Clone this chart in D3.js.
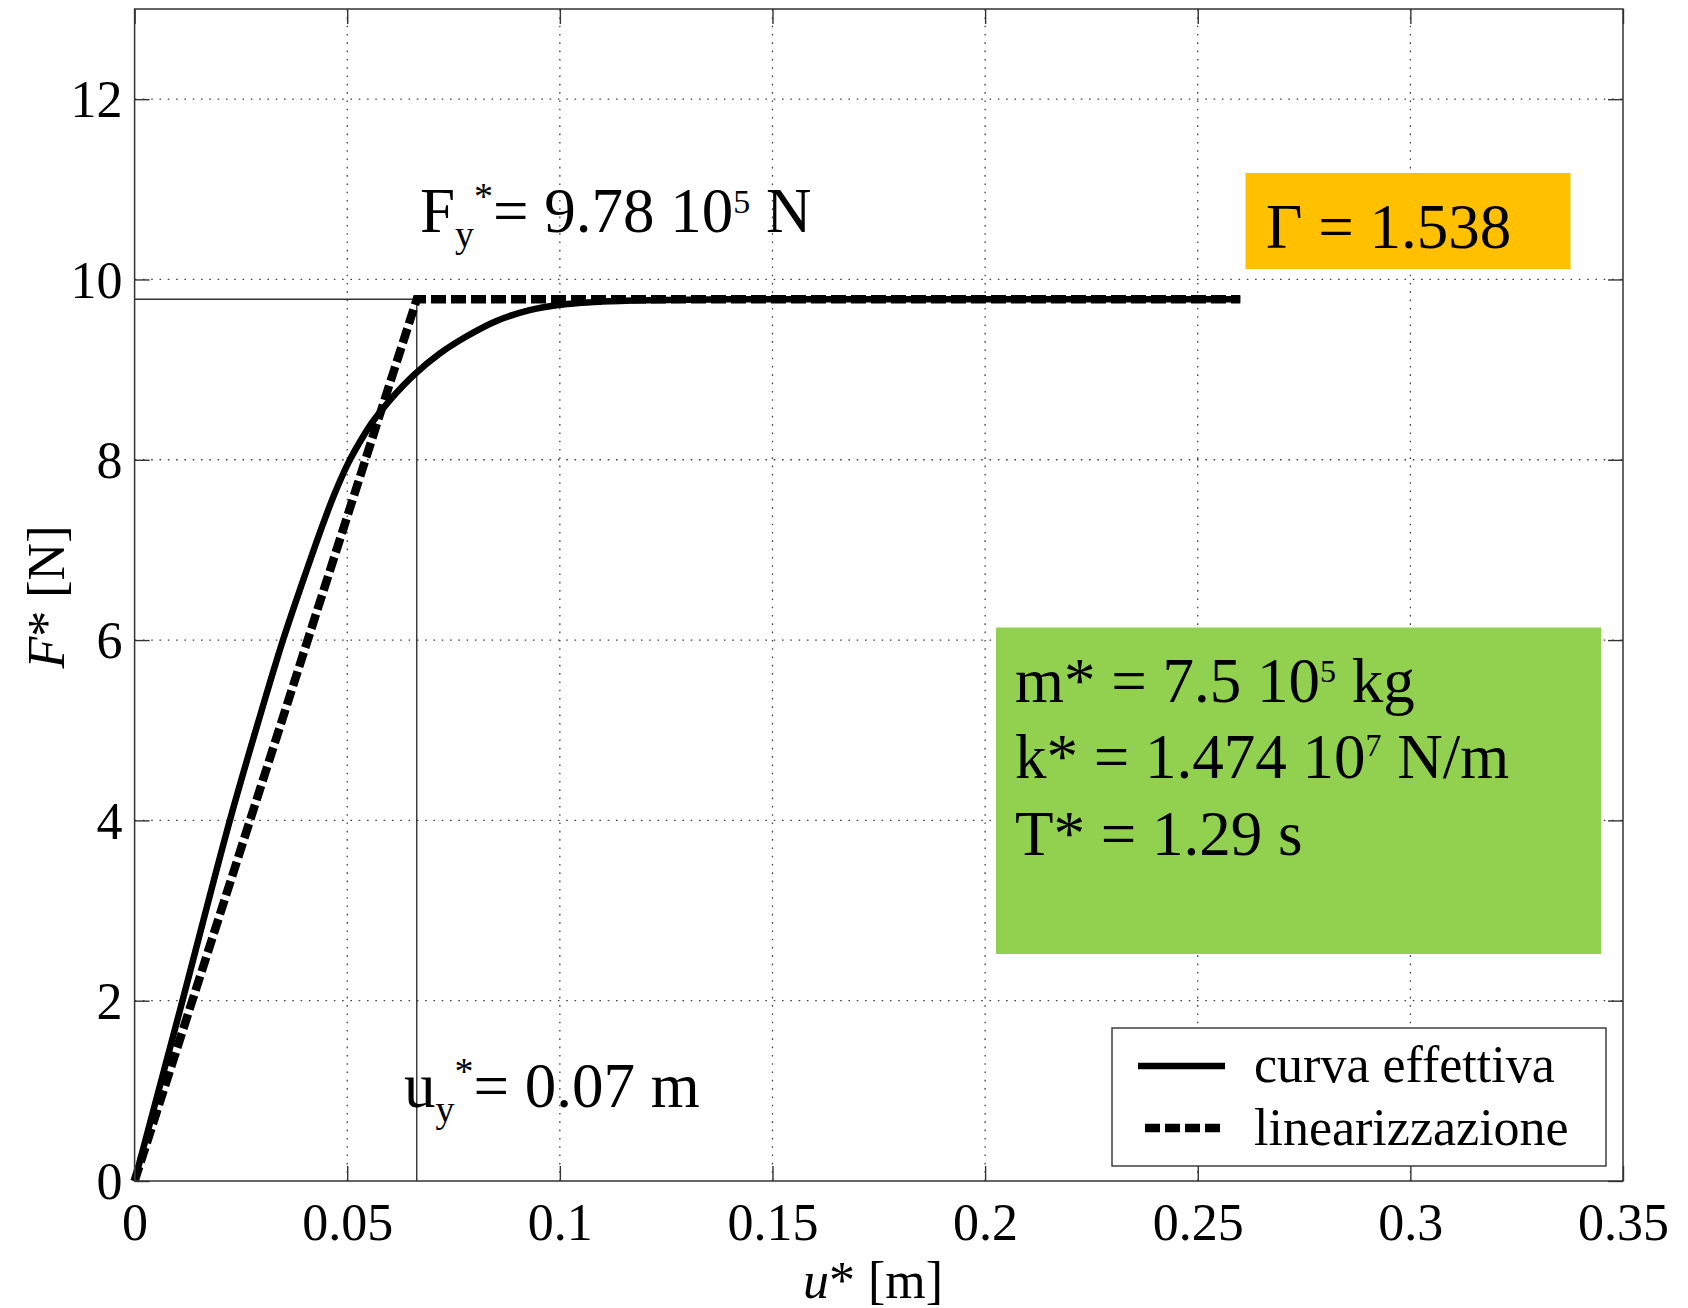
<!DOCTYPE html>
<html>
<head>
<meta charset="utf-8">
<script src="https://cdn.jsdelivr.net/npm/d3@7"></script>
<style>
  html, body { margin: 0; padding: 0; background: #fff; }
  svg { display: block; }
</style>
</head>
<body>
<svg id="chart" width="1688" height="1308"></svg>
<script>
// ---- tick values and labels ----
const xTicks = [0, 0.05, 0.1, 0.15, 0.2, 0.25, 0.3, 0.35];
const xTickLabels = ["0", "0.05", "0.1", "0.15", "0.2", "0.25", "0.3", "0.35"];
const yTicks = [0, 2, 4, 6, 8, 10, 12];
const yTickLabels = ["0", "2", "4", "6", "8", "10", "12"];

// ---- capacity curve of the equivalent SDOF system: u* [m], F* [10^5 N] ----
const curveU = [0, 0.0107, 0.0224, 0.0290, 0.0349, 0.0405, 0.0444, 0.0470, 0.0502, 0.0530,
                0.0561, 0.0600, 0.0659, 0.0718, 0.0781, 0.0851, 0.0929, 0.1000, 0.1100,
                0.1200, 0.1400, 0.2000, 0.2600];
const curveF = [0, 1.9, 4.0, 5.08, 6.0, 6.78, 7.30, 7.62, 7.96, 8.20,
                8.43, 8.66, 8.95, 9.18, 9.37, 9.54, 9.66, 9.72, 9.755,
                9.77, 9.78, 9.78, 9.78];

// ---- bilinear idealisation ----
const Fy = 9.78;       // yield force  [10^5 N]
const kStar = 1.474;   // stiffness    [10^7 N/m]
const uMax = 0.26;     // ultimate displacement [m]
const uy = (Fy * 1e5) / (kStar * 1e7);   // yield displacement [m]
const linU = [0, uy, uMax];
const linF = [0, Fy, Fy];

const legendLabels = ["curva effettiva", "linearizzazione"];

// ---- layout ----
const W = 1688, H = 1308;
const plot = { left: 134.6, right: 1623, top: 9, bottom: 1181 };
const serif = "'Liberation Serif', 'Times New Roman', Times, serif";

const svg = d3.select("#chart");
svg.append("rect").attr("width", W).attr("height", H).attr("fill", "#fff");

const x = d3.scaleLinear().domain([0, 0.35]).range([plot.left, plot.right]);
const y = d3.scaleLinear().domain([0, 13]).range([plot.bottom, plot.top]);

// ---- dotted grid ----
const grid = svg.append("g")
  .attr("stroke", "#444").attr("stroke-width", 1.3)
  .attr("stroke-dasharray", "1.6,6.7");
grid.selectAll("line.gx").data(xTicks.filter(d => d > 0 && d < 0.35)).join("line")
  .attr("x1", d => x(d)).attr("x2", d => x(d))
  .attr("y1", y(0)).attr("y2", y(13));
grid.selectAll("line.gy").data(yTicks.filter(d => d > 0)).join("line")
  .attr("x1", x(0)).attr("x2", x(0.35))
  .attr("y1", d => y(d)).attr("y2", d => y(d));

// ---- yield reference lines ----
svg.append("path")
  .attr("d", `M${x(0)},${y(Fy)}H${x(uy)}V${y(0)}`)
  .attr("fill", "none").attr("stroke", "#333").attr("stroke-width", 1.4);

// ---- curves ----
const curvePts = curveU.map((u, i) => [u, curveF[i]]);
const linPts = linU.map((u, i) => [u, linF[i]]);

const smooth = d3.line().x(d => x(d[0])).y(d => y(d[1])).curve(d3.curveCatmullRom.alpha(0.5));
const straight = d3.line().x(d => x(d[0])).y(d => y(d[1]));

svg.append("path").datum(linPts)
  .attr("d", straight)
  .attr("fill", "none").attr("stroke", "#000")
  .attr("stroke-width", 8.5).attr("stroke-dasharray", "15,5");

svg.append("path").datum(curvePts)
  .attr("d", smooth)
  .attr("fill", "none").attr("stroke", "#000")
  .attr("stroke-width", 6.5).attr("stroke-linejoin", "round");

// ---- helper for rich text with sub/superscripts ----
function richText(parent, x0, y0, size, parts) {
  const t = parent.append("text")
    .attr("x", x0).attr("y", y0)
    .attr("font-family", serif).attr("font-size", size).attr("fill", "#000");
  parts.forEach(p => {
    const s = t.append("tspan").text(p.t);
    if (p.size) s.attr("font-size", p.size);
    if (p.dy) s.attr("dy", p.dy);
    if (p.style) s.attr("font-style", p.style);
  });
  return t;
}

// ---- annotation: yield force and displacement ----
richText(svg, 420, 232, 63, [
  { t: "F" },
  { t: "y", size: 38, dy: 15 },
  { t: "*", size: 38, dy: -38 },
  { t: "= 9.78 10", dy: 23 },
  { t: "5", size: 34, dy: -19 },
  { t: " N", dy: 19 }
]);

richText(svg, 404, 1107, 63, [
  { t: "u" },
  { t: "y", size: 38, dy: 15 },
  { t: "*", size: 38, dy: -38 },
  { t: "= 0.07 m", dy: 23 }
]);

// ---- participation factor box ----
svg.append("rect")
  .attr("x", 1245.5).attr("y", 173).attr("width", 325).attr("height", 96)
  .attr("fill", "#FFC000");
richText(svg, 1266, 247.5, 63, [{ t: "Γ = 1.538" }]);

// ---- SDOF parameters box ----
svg.append("rect")
  .attr("x", 996).attr("y", 627.5).attr("width", 605).attr("height", 326.5)
  .attr("fill", "#92D050");
richText(svg, 1015, 702, 63, [
  { t: "m* = 7.5 10" },
  { t: "5", size: 32, dy: -20 },
  { t: " kg", dy: 20 }
]);
richText(svg, 1015, 778, 63, [
  { t: "k* = 1.474 10" },
  { t: "7", size: 32, dy: -22 },
  { t: " N/m", dy: 22 }
]);
richText(svg, 1015, 855, 63, [{ t: "T* = 1.29 s" }]);

// ---- axes: box with inward ticks on all four sides ----
const tickLen = 15;
const axisColor = "#333";

function styleAxis(g, withText) {
  g.select(".domain").remove();
  g.selectAll(".tick line").attr("stroke", axisColor).attr("stroke-width", 1.4);
  g.selectAll(".tick text")
    .attr("font-family", serif).attr("font-size", 52).attr("fill", "#000");
  if (!withText) g.selectAll(".tick text").remove();
}

const gBottom = svg.append("g").attr("transform", `translate(0,${plot.bottom})`)
  .call(d3.axisBottom(x).tickValues(xTicks).tickFormat((d, i) => xTickLabels[i])
    .tickSizeInner(-tickLen).tickSizeOuter(0).tickPadding(22));
styleAxis(gBottom, true);

const gTop = svg.append("g").attr("transform", `translate(0,${plot.top})`)
  .call(d3.axisTop(x).tickValues(xTicks).tickFormat("")
    .tickSizeInner(-tickLen).tickSizeOuter(0));
styleAxis(gTop, false);

const gLeft = svg.append("g").attr("transform", `translate(${plot.left},0)`)
  .call(d3.axisLeft(y).tickValues(yTicks).tickFormat((d, i) => yTickLabels[i])
    .tickSizeInner(-tickLen).tickSizeOuter(0).tickPadding(12));
styleAxis(gLeft, true);
gLeft.selectAll(".tick text").attr("dy", "0.34em");

const gRight = svg.append("g").attr("transform", `translate(${plot.right},0)`)
  .call(d3.axisRight(y).tickValues(yTicks).tickFormat("")
    .tickSizeInner(-tickLen).tickSizeOuter(0));
styleAxis(gRight, false);

svg.append("rect")
  .attr("x", plot.left).attr("y", plot.top)
  .attr("width", plot.right - plot.left).attr("height", plot.bottom - plot.top)
  .attr("fill", "none").attr("stroke", axisColor).attr("stroke-width", 1.5);

// ---- axis titles ----
svg.append("text")
  .attr("x", 873).attr("y", 1298)
  .attr("text-anchor", "middle")
  .attr("font-family", serif).attr("font-size", 52)
  .call(t => {
    t.append("tspan").attr("font-style", "italic").text("u");
    t.append("tspan").text("* [m]");
  });

svg.append("text")
  .attr("transform", `translate(64,597) rotate(-90)`)
  .attr("text-anchor", "middle")
  .attr("font-family", serif).attr("font-size", 52)
  .call(t => {
    t.append("tspan").attr("font-style", "italic").text("F");
    t.append("tspan").text("* [N]");
  });

// ---- legend ----
const lg = svg.append("g");
lg.append("rect")
  .attr("x", 1112).attr("y", 1028).attr("width", 494).attr("height", 138)
  .attr("fill", "#fff").attr("stroke", axisColor).attr("stroke-width", 1.4);
lg.append("line")
  .attr("x1", 1138).attr("x2", 1225).attr("y1", 1066).attr("y2", 1066)
  .attr("stroke", "#000").attr("stroke-width", 6.5);
lg.append("line")
  .attr("x1", 1145).attr("x2", 1225).attr("y1", 1128).attr("y2", 1128)
  .attr("stroke", "#000").attr("stroke-width", 8.5).attr("stroke-dasharray", "15,5");
lg.selectAll("text.lbl").data(legendLabels).join("text")
  .attr("x", 1254).attr("y", (d, i) => 1082 + i * 63)
  .attr("font-family", serif).attr("font-size", 52).attr("fill", "#000")
  .text(d => d);
</script>
</body>
</html>
